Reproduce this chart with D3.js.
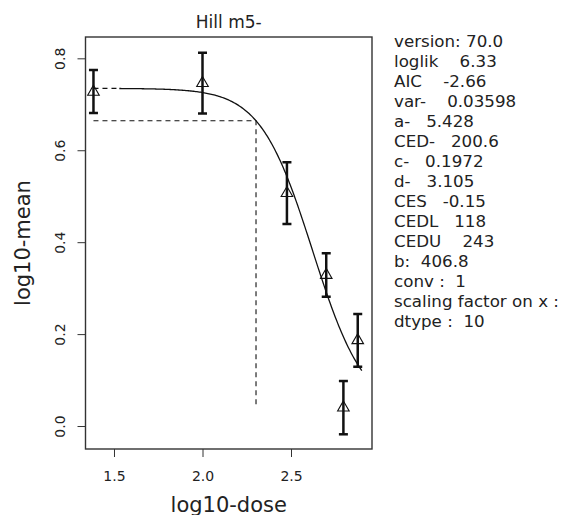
<!DOCTYPE html>
<html>
<head>
<meta charset="utf-8">
<script src="https://cdn.jsdelivr.net/npm/d3@7/dist/d3.min.js"></script>
<style>
  html, body { margin: 0; padding: 0; background: #fff; }
  svg { display: block; }
  text { font-family: "DejaVu Sans", sans-serif; fill: #222; }
</style>
</head>
<body>
<svg id="chart" width="563" height="515"></svg>
<script>
// ---------------- data ----------------
const title = "Hill m5-";
const xLabel = "log10-dose";
const yLabel = "log10-mean";
const logDose = [1.384, 2.0, 2.477, 2.699, 2.796, 2.877];
const logMean = [0.727, 0.746, 0.5065, 0.3285, 0.040, 0.1865];
const lowerCI = [0.681, 0.680, 0.4395, 0.2813, -0.018, 0.129];
const upperCI = [0.7746, 0.8122, 0.5738, 0.3758, 0.0979, 0.2437];
const xTicks = [1.5, 2.0, 2.5];
const yTicks = [0.0, 0.2, 0.4, 0.6, 0.8];
// fitted model parameters (as printed)
const modelParams = { a: 5.428, c: 0.1972, d: 3.105, CED: 200.6, CES: -0.15 };
const curveRange = [1.53, 2.90];
// info panel: [label, gap in spaces, value]
const infoNames  = ["version:", "loglik", "AIC", "var-", "a-", "CED-", "c-", "d-", "CES", "CEDL", "CEDU", "b:", "conv :", "scaling factor on x :", "dtype :"];
const infoGaps   = [1, 4, 4, 4, 3, 3, 3, 3, 3, 3, 4, 2, 2, 0, 2];
const infoValues = ["70.0", "6.33", "-2.66", "0.03598", "5.428", "200.6", "0.1972", "3.105", "-0.15", "118", "243", "406.8", "1", "", "10"];

// ---------------- layout ----------------
const svg = d3.select("#chart");
const L = 85.5, R = 372, T = 37, B = 449;
const x = d3.scaleLinear().domain([1.339, 2.9576]).range([L, R]);
const y = d3.scaleLinear().domain([-0.0500, 0.8464]).range([B, T]);

// axes
const yAxis = svg.append("g").attr("transform", `translate(${L},0)`)
  .call(d3.axisLeft(y).tickValues(yTicks).tickFormat(d3.format(".1f")).tickSize(8).tickSizeOuter(0));
yAxis.select(".domain").remove();
yAxis.selectAll(".tick line").attr("stroke", "#333").attr("stroke-width", 1);
yAxis.selectAll(".tick text")
  .attr("transform", "rotate(-90)")
  .attr("x", 0).attr("y", -20.5).attr("dy", 0)
  .attr("text-anchor", "middle")
  .style("font-size", "14px").style("font-family", "DejaVu Sans").attr("fill", "#333");

const xAxis = svg.append("g").attr("transform", `translate(0,${B})`)
  .call(d3.axisBottom(x).tickValues(xTicks).tickFormat(d3.format(".1f")).tickSize(8).tickSizeOuter(0));
xAxis.select(".domain").remove();
xAxis.selectAll(".tick line").attr("stroke", "#333").attr("stroke-width", 1);
xAxis.selectAll(".tick text")
  .attr("y", 32).attr("dy", 0)
  .style("font-size", "14px").style("font-family", "DejaVu Sans").attr("fill", "#333");

// box
svg.append("rect").attr("x", L).attr("y", T).attr("width", R - L).attr("height", B - T)
  .attr("fill", "none").attr("stroke", "#333").attr("stroke-width", 1.4);

// titles
svg.append("text").attr("x", (L + R) / 2).attr("y", 28).attr("text-anchor", "middle")
  .style("font-size", "17px").text(title);
svg.append("text").attr("x", (L + R) / 2).attr("y", 512).attr("text-anchor", "middle")
  .style("font-size", "21px").text(xLabel);
svg.append("text").attr("transform", `translate(30,${(T + B) / 2}) rotate(-90)`)
  .attr("text-anchor", "middle").style("font-size", "21px").text(yLabel);

// model curve
const p = modelParams;
const bHalf = p.CED * Math.pow((p.c - 1) / p.CES - 1, 1 / p.d);
function model(lx) {
  const dose = Math.pow(10, lx);
  const z = Math.pow(dose, p.d);
  return Math.log10(p.a * (1 + (p.c - 1) * z / (Math.pow(bHalf, p.d) + z)));
}
svg.append("clipPath").attr("id", "plotclip")
  .append("rect").attr("x", L).attr("y", T).attr("width", R - L).attr("height", B - T);
const nSteps = 200;
const curvePts = d3.range(nSteps + 1).map(i => {
  const lx = curveRange[0] + (curveRange[1] - curveRange[0]) * i / nSteps;
  return [lx, model(lx)];
});
const line = d3.line().x(d => x(d[0])).y(d => y(d[1]));
const g = svg.append("g").attr("clip-path", "url(#plotclip)");

// dashed background level up to curve start
const logA = Math.log10(p.a);
g.append("path").attr("d", line([[logDose[0], logA], [curveRange[0], logA]]))
  .attr("fill", "none").attr("stroke", "#111").attr("stroke-width", 1.1).attr("stroke-dasharray", "5,4");
g.append("path").attr("d", line(curvePts))
  .attr("fill", "none").attr("stroke", "#111").attr("stroke-width", 1.3);

// CED dashed lines
const cesLevel = Math.log10(p.a * (1 + p.CES));
const logCED = Math.log10(p.CED);
g.append("path").attr("d", line([[logDose[0], cesLevel], [logCED, cesLevel], [logCED, d3.min(logMean)]]))
  .attr("fill", "none").attr("stroke", "#111").attr("stroke-width", 1.1).attr("stroke-dasharray", "5,4");

// error bars
const pts = logDose.map((d, i) => ({ x: d, m: logMean[i], lo: lowerCI[i], hi: upperCI[i] }));
const eb = g.selectAll(".eb").data(pts).enter().append("g").attr("class", "eb");
eb.append("line").attr("x1", d => x(d.x)).attr("x2", d => x(d.x))
  .attr("y1", d => y(d.lo)).attr("y2", d => y(d.hi))
  .attr("stroke", "#111").attr("stroke-width", 2.5);
eb.append("line").attr("x1", d => x(d.x) - 4.5).attr("x2", d => x(d.x) + 4.5)
  .attr("y1", d => y(d.lo)).attr("y2", d => y(d.lo))
  .attr("stroke", "#111").attr("stroke-width", 2.5);
eb.append("line").attr("x1", d => x(d.x) - 4.5).attr("x2", d => x(d.x) + 4.5)
  .attr("y1", d => y(d.hi)).attr("y2", d => y(d.hi))
  .attr("stroke", "#111").attr("stroke-width", 2.5);

// triangles (open)
const r = 4.3;
eb.append("path").attr("d", d => {
  const cx = x(d.x), cy = y(d.m);
  return `M${cx},${cy - 1.555 * r}L${cx + 1.347 * r},${cy + 0.778 * r}L${cx - 1.347 * r},${cy + 0.778 * r}Z`;
}).attr("fill", "none").attr("stroke", "#111").attr("stroke-width", 1.1);

// info text
const NB = "\u00A0";
svg.append("g").selectAll("text").data(infoNames).enter().append("text")
  .attr("x", 394).attr("y", (d, i) => 47 + 20 * i)
  .style("font-size", "16.7px")
  .text((d, i) => d + NB.repeat(infoGaps[i]) + infoValues[i]);
</script>
</body>
</html>
